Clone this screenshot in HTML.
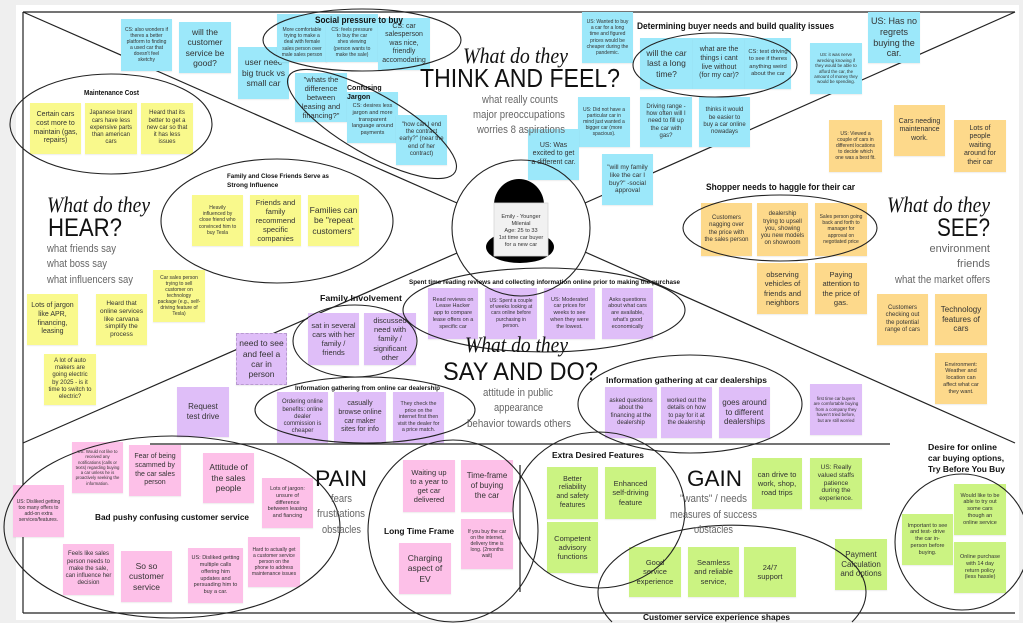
<!DOCTYPE html>
<html><head><meta charset="utf-8">
<style>
html,body{margin:0;padding:0;width:1023px;height:623px;overflow:hidden;}
body{background:#efefef;position:relative;font-family:"Liberation Sans",sans-serif;}
#board{position:absolute;left:16px;top:5px;width:1003px;height:615px;background:#fff;}
svg{position:absolute;left:0;top:0;overflow:hidden;}
#bg{z-index:0}
#ov{z-index:2;pointer-events:none}
.s{position:absolute;z-index:1;display:flex;align-items:center;justify-content:center;text-align:center;line-height:1.22;color:#333;box-sizing:border-box;padding:1px;overflow:hidden;box-shadow:0 1px 1px rgba(0,0,0,0.08);}
.b{background:#9ce8fa}
.y{background:#f9f98c}
.o{background:#fdd98b}
.p{background:#dfbef8}
.k{background:#fdc0e8}
.g{background:#cbf382}
</style></head><body>
<div id="board"></div>
<svg id="bg" width="1023" height="623" viewBox="0 0 1023 623">
<g stroke="#222" stroke-width="1.2" fill="none">
<line x1="23" y1="12" x2="1015" y2="12"/>
<line x1="23" y1="12" x2="23" y2="613"/>
<line x1="23" y1="613" x2="1015" y2="613"/>
<line x1="23" y1="12" x2="457" y2="203"/>
<line x1="1015" y1="12" x2="585" y2="203"/>
<line x1="23" y1="443" x2="457" y2="253"/>
<line x1="1015" y1="443" x2="585" y2="252"/>
<line x1="150" y1="444" x2="890" y2="444"/>
<line x1="520" y1="465" x2="520" y2="592"/>
</g>
</svg>

<!-- BLUE -->
<div class="s b" style="left:121px;top:19px;width:51px;height:52px;font-size:5px">CS: also wonders if<br>theres a better<br>platform to finding<br>a used car that<br>doesn't feel<br>sketchy</div>
<div class="s b" style="left:179px;top:22px;width:52px;height:51px;font-size:8.5px">will the<br>customer<br>service be<br>good?</div>
<div class="s b" style="left:238px;top:47px;width:51px;height:52px;font-size:8.5px">user neec<br>big truck vs<br>small car</div>
<div class="s b" style="left:277px;top:14px;width:50px;height:48px;font-size:5px;padding-top:10px">More comfortable<br>trying to make a<br>deal with female<br>sales person over<br>male sales person</div>
<div class="s b" style="left:326px;top:14px;width:52px;height:48px;font-size:5px;padding-top:10px">CS: feels pressure<br>to buy the car<br>shes viewing<br>(person wants to<br>make the sale)</div>
<div class="s b" style="left:378px;top:18px;width:52px;height:52px;font-size:7px">CS: car<br>salesperson<br>was nice,<br>friendly<br>accomodating</div>
<div class="s b" style="left:295px;top:73px;width:52px;height:49px;font-size:7.5px">"whats the<br>difference<br>between<br>leasing and<br>financing?"</div>
<div class="s b" style="left:347px;top:92px;width:51px;height:51px;font-size:5.5px;padding-top:6px">CS: desires less<br>jargon and more<br>transparent<br>language around<br>payments</div>
<div class="s b" style="left:396px;top:115px;width:51px;height:50px;font-size:6px">"how can I end<br>the contract<br>early?" (near the<br>end of her<br>contract)</div>
<div class="s b" style="left:582px;top:12px;width:51px;height:51px;font-size:5px">US: Wanted to buy<br>a car for a long<br>time and figured<br>prices would be<br>cheaper during the<br>pandemic.</div>
<div class="s b" style="left:640px;top:38px;width:53px;height:51px;font-size:8.5px">will the car<br>last a long<br>time?</div>
<div class="s b" style="left:693px;top:38px;width:52px;height:51px;font-size:7px">what are the<br>things i cant<br>live without<br>(for my car)?</div>
<div class="s b" style="left:745px;top:38px;width:46px;height:51px;font-size:5.8px">CS: test driving<br>to see if theres<br>anything weird<br>about the car</div>
<div class="s b" style="left:810px;top:43px;width:52px;height:51px;font-size:4.4px">US: it was nerve<br>wrecking knowing if<br>they would be able to<br>afford the car, the<br>amount of money they<br>would be spending.</div>
<div class="s b" style="left:868px;top:12px;width:52px;height:51px;font-size:9px">US: Has no<br>regrets<br>buying the<br>car.</div>
<div class="s b" style="left:578px;top:97px;width:52px;height:50px;font-size:5px">US: Did not have a<br>particular car in<br>mind just wanted a<br>bigger car (more<br>spacious).</div>
<div class="s b" style="left:640px;top:97px;width:52px;height:50px;font-size:6px">Driving range -<br>how often will I<br>need to fill up<br>the car with<br>gas?</div>
<div class="s b" style="left:699px;top:97px;width:51px;height:50px;font-size:6px">thinks it would<br>be easier to<br>buy a car online<br>nowadays</div>
<div class="s b" style="left:528px;top:129px;width:51px;height:51px;font-size:7px">US: Was<br>excited to get<br>a different car.</div>
<div class="s b" style="left:602px;top:154px;width:51px;height:51px;font-size:6.5px">"will my family<br>like the car I<br>buy?" -social<br>approval</div>

<!-- YELLOW -->
<div class="s y" style="left:30px;top:103px;width:51px;height:51px;font-size:7px">Certain cars<br>cost more to<br>maintain (gas,<br>repairs)</div>
<div class="s y" style="left:85px;top:103px;width:52px;height:51px;font-size:6px">Japanese brand<br>cars have less<br>expensive parts<br>than american<br>cars</div>
<div class="s y" style="left:141px;top:103px;width:52px;height:51px;font-size:6px">Heard that its<br>better to get a<br>new car so that<br>it has less<br>issues</div>
<div class="s y" style="left:192px;top:195px;width:51px;height:51px;font-size:5px">Heavily<br>influenced by<br>close friend who<br>convinced him to<br>buy Tesla</div>
<div class="s y" style="left:250px;top:195px;width:51px;height:51px;font-size:7.5px">Friends and<br>family<br>recommend<br>specific<br>companies</div>
<div class="s y" style="left:308px;top:195px;width:51px;height:51px;font-size:8.5px">Families can<br>be "repeat<br>customers"</div>
<div class="s y" style="left:153px;top:270px;width:52px;height:52px;font-size:5px">Car sales person<br>trying to sell<br>customer on<br>technology<br>package (e.g., self-<br>driving feature of<br>Tesla)</div>
<div class="s y" style="left:27px;top:294px;width:51px;height:51px;font-size:7px">Lots of jargon<br>like APR,<br>financing,<br>leasing</div>
<div class="s y" style="left:96px;top:294px;width:51px;height:51px;font-size:6.5px">Heard that<br>online services<br>like carvana<br>simplify the<br>process</div>
<div class="s y" style="left:44px;top:354px;width:52px;height:51px;font-size:6px">A lot of auto<br>makers are<br>going electric<br>by 2025 - is it<br>time to switch to<br>electric?</div>

<!-- PURPLE -->
<div class="s p" style="left:236px;top:333px;width:51px;height:52px;font-size:8.5px;padding:0;border:1px dashed #b89ad0">need to see<br>and feel a<br>car in<br>person</div>
<div class="s p" style="left:177px;top:387px;width:52px;height:50px;font-size:8px">Request<br>test drive</div>
<div class="s p" style="left:308px;top:313px;width:51px;height:52px;font-size:7.5px">sat in several<br>cars with her<br>family /<br>friends</div>
<div class="s p" style="left:364px;top:313px;width:52px;height:52px;font-size:7.5px">discussed<br>need with<br>family /<br>significant<br>other</div>
<div class="s p" style="left:428px;top:288px;width:50px;height:51px;font-size:5.5px">Read reviews on<br>Lease Hacker<br>app to compare<br>lease offers on a<br>specific car</div>
<div class="s p" style="left:485px;top:288px;width:52px;height:51px;font-size:5px">US: Spent a couple<br>of weeks looking at<br>cars online before<br>purchasing in<br>person.</div>
<div class="s p" style="left:544px;top:288px;width:51px;height:51px;font-size:5.5px">US: Moderated<br>car prices for<br>weeks to see<br>when they were<br>the lowest.</div>
<div class="s p" style="left:602px;top:288px;width:51px;height:51px;font-size:5.5px">Asks questions<br>about what cars<br>are available,<br>what's good<br>economically</div>
<div class="s p" style="left:277px;top:392px;width:51px;height:51px;font-size:6px">Ordering online<br>benefits: online<br>dealer<br>commission is<br>cheaper</div>
<div class="s p" style="left:334px;top:392px;width:52px;height:51px;font-size:7px">casually<br>browse online<br>car maker<br>sites for info</div>
<div class="s p" style="left:393px;top:392px;width:51px;height:51px;font-size:5.3px">They check the<br>price on the<br>internet first then<br>visit the dealer for<br>a price match.</div>
<div class="s p" style="left:605px;top:387px;width:52px;height:51px;font-size:6px">asked questions<br>about the<br>financing at the<br>dealership</div>
<div class="s p" style="left:661px;top:387px;width:51px;height:51px;font-size:6px">worked out the<br>details on how<br>to pay for it at<br>the dealership</div>
<div class="s p" style="left:719px;top:387px;width:51px;height:51px;font-size:8px">goes around<br>to different<br>dealerships</div>
<div class="s p" style="left:810px;top:384px;width:52px;height:51px;font-size:4.4px">first time car buyers<br>are comfortable buying<br>from a company they<br>haven't tried before,<br>but are still worried</div>

<!-- ORANGE -->
<div class="s o" style="left:829px;top:120px;width:53px;height:52px;font-size:5px">US: Viewed a<br>couple of cars in<br>different locations<br>to decide which<br>one was a best fit.</div>
<div class="s o" style="left:894px;top:105px;width:51px;height:51px;font-size:7px">Cars needing<br>maintenance<br>work.</div>
<div class="s o" style="left:954px;top:120px;width:52px;height:52px;font-size:7px">Lots of<br>people<br>waiting<br>around for<br>their car</div>
<div class="s o" style="left:701px;top:203px;width:51px;height:53px;font-size:6px">Customers<br>nagging over<br>the price with<br>the sales person</div>
<div class="s o" style="left:757px;top:203px;width:51px;height:53px;font-size:6px">dealership<br>trying to upsell<br>you, showing<br>you new models<br>on showroom</div>
<div class="s o" style="left:815px;top:203px;width:52px;height:53px;font-size:5px">Sales person going<br>back and forth to<br>manager for<br>approval on<br>negotiated price</div>
<div class="s o" style="left:757px;top:263px;width:51px;height:51px;font-size:7.5px">observing<br>vehicles of<br>friends and<br>neighbors</div>
<div class="s o" style="left:815px;top:263px;width:52px;height:51px;font-size:7.5px">Paying<br>attention to<br>the price of<br>gas.</div>
<div class="s o" style="left:877px;top:294px;width:51px;height:51px;font-size:6px">Customers<br>checking out<br>the potential<br>range of cars</div>
<div class="s o" style="left:935px;top:294px;width:52px;height:51px;font-size:8px">Technology<br>features of<br>cars</div>
<div class="s o" style="left:935px;top:353px;width:52px;height:51px;font-size:5.5px">Environment:<br>Weather and<br>location can<br>affect what car<br>they want.</div>

<!-- PINK -->
<div class="s k" style="left:72px;top:442px;width:51px;height:51px;font-size:4.3px">US: Would not like to<br>received any<br>notifications (calls or<br>texts) regarding buying<br>a car unless he is<br>proactively seeking the<br>information.</div>
<div class="s k" style="left:129px;top:445px;width:52px;height:51px;font-size:7px">Fear of being<br>scammed by<br>the car sales<br>person</div>
<div class="s k" style="left:203px;top:453px;width:51px;height:50px;font-size:8.5px">Attitude of<br>the sales<br>people</div>
<div class="s k" style="left:13px;top:485px;width:51px;height:52px;font-size:5px">US: Disliked getting<br>too many offers to<br>add-on extra<br>services/features.</div>
<div class="s k" style="left:63px;top:544px;width:51px;height:51px;font-size:6px">Feels like sales<br>person needs to<br>make the sale,<br>can influence her<br>decision</div>
<div class="s k" style="left:121px;top:551px;width:51px;height:51px;font-size:8.5px">So so<br>customer<br>service</div>
<div class="s k" style="left:188px;top:548px;width:55px;height:55px;font-size:5.5px">US: Disliked getting<br>multiple calls<br>offering him<br>updates and<br>persuading him to<br>buy a car.</div>
<div class="s k" style="left:248px;top:537px;width:52px;height:50px;font-size:5px">Hard to actually get<br>a customer service<br>person on the<br>phone to address<br>maintenance issues</div>
<div class="s k" style="left:262px;top:478px;width:51px;height:50px;font-size:5.5px">Lots of jargon:<br>unsure of<br>difference<br>between leasing<br>and fiancing</div>
<div class="s k" style="left:403px;top:460px;width:52px;height:52px;font-size:7.5px">Waiting up<br>to a year to<br>get car<br>delivered</div>
<div class="s k" style="left:461px;top:460px;width:52px;height:52px;font-size:8px">Time-frame<br>of buying<br>the car</div>
<div class="s k" style="left:461px;top:519px;width:52px;height:50px;font-size:5px">If you buy the car<br>on the internet,<br>delivery time is<br>long. (2months<br>wait)</div>
<div class="s k" style="left:399px;top:543px;width:52px;height:51px;font-size:8.5px">Charging<br>aspect of<br>EV</div>

<!-- GREEN -->
<div class="s g" style="left:547px;top:467px;width:51px;height:52px;font-size:7px">Better<br>reliability<br>and safety<br>features</div>
<div class="s g" style="left:605px;top:467px;width:51px;height:52px;font-size:7.5px">Enhanced<br>self-driving<br>feature</div>
<div class="s g" style="left:547px;top:522px;width:51px;height:51px;font-size:7.5px">Competent<br>advisory<br>functions</div>
<div class="s g" style="left:629px;top:547px;width:52px;height:50px;font-size:7.5px">Good<br>service<br>experience</div>
<div class="s g" style="left:688px;top:547px;width:51px;height:50px;font-size:7.5px">Seamless<br>and reliable<br>service,</div>
<div class="s g" style="left:744px;top:547px;width:52px;height:50px;font-size:7.5px">24/7<br>support</div>
<div class="s g" style="left:752px;top:458px;width:50px;height:51px;font-size:7.5px">can drive to<br>work, shop,<br>road trips</div>
<div class="s g" style="left:810px;top:458px;width:52px;height:51px;font-size:6.5px">US: Really<br>valued staffs<br>patience<br>during the<br>experience.</div>
<div class="s g" style="left:835px;top:539px;width:52px;height:51px;font-size:8px">Payment<br>Calculation<br>and options</div>
<div class="s g" style="left:902px;top:514px;width:51px;height:51px;font-size:5.5px">Important to see<br>and test- drive<br>the car in-<br>person before<br>buying.</div>
<div class="s g" style="left:954px;top:484px;width:52px;height:51px;font-size:5.5px">Would like to be<br>able to try out<br>some cars<br>though an<br>online service</div>
<div class="s g" style="left:954px;top:542px;width:52px;height:51px;font-size:5.5px">Online purchase<br>with 14 day<br>return policy<br>(less hassle)</div>

<svg id="ov" width="1023" height="623" viewBox="0 0 1023 623">
<!-- person -->
<path d="M494,205 A25,26 0 0 1 544,205 Z" fill="#000"/>
<ellipse cx="520" cy="247" rx="34" ry="16" fill="#000"/>
<rect x="494" y="203" width="54" height="53" fill="#f1f1f1" stroke="#d8d8d8" stroke-width="0.8"/>
<g font-family="Liberation Sans, sans-serif" font-size="5.6" fill="#333" text-anchor="middle">
<text x="521" y="218">Emily - Younger</text>
<text x="521" y="225">Milenial</text>
<text x="521" y="232">Age: 25 to 33</text>
<text x="521" y="239">1st time car buyer</text>
<text x="521" y="246">for a new car</text>
</g>
<g stroke="#222" stroke-width="1.1" fill="none">
<ellipse cx="521" cy="228" rx="69" ry="68"/>
<ellipse cx="362" cy="40" rx="99" ry="31"/>
<ellipse cx="372" cy="124" rx="96" ry="30" transform="rotate(30 372 124)"/>
<ellipse cx="111" cy="124" rx="101" ry="50"/>
<ellipse cx="277" cy="221" rx="116" ry="62"/>
<ellipse cx="715" cy="65" rx="82" ry="32"/>
<ellipse cx="780" cy="228" rx="97" ry="33"/>
<ellipse cx="355" cy="341" rx="62" ry="36"/>
<ellipse cx="544" cy="310" rx="141" ry="42"/>
<ellipse cx="365" cy="410" rx="110" ry="33"/>
<ellipse cx="690" cy="404" rx="112" ry="49"/>
<ellipse cx="172" cy="527" rx="168" ry="91"/>
<ellipse cx="453" cy="531" rx="85" ry="91"/>
<ellipse cx="599" cy="510" rx="86" ry="78"/>
<path d="M612,622 A134,67 0 1 1 852,622"/>
<ellipse cx="962" cy="542" rx="67" ry="68"/>
</g>

<!-- big quadrant titles -->
<g font-family="Liberation Serif, serif" font-style="italic" fill="#111" font-size="22">
<text x="463" y="63" textLength="105" lengthAdjust="spacingAndGlyphs">What do they</text>
<text x="47" y="212" textLength="103" lengthAdjust="spacingAndGlyphs">What do they</text>
<text x="887" y="212" textLength="103" lengthAdjust="spacingAndGlyphs">What do they</text>
<text x="465" y="352" textLength="103" lengthAdjust="spacingAndGlyphs">What do they</text>
</g>
<g font-family="Liberation Sans, sans-serif" fill="#111">
<text x="420" y="87" font-size="26" textLength="200" lengthAdjust="spacingAndGlyphs">THINK AND FEEL?</text>
<text x="48" y="236" font-size="25" textLength="74" lengthAdjust="spacingAndGlyphs">HEAR?</text>
<text x="937" y="236" font-size="25" textLength="53" lengthAdjust="spacingAndGlyphs">SEE?</text>
<text x="443" y="380" font-size="25" textLength="155" lengthAdjust="spacingAndGlyphs">SAY AND DO?</text>
<text x="315" y="486" font-size="22" textLength="52" lengthAdjust="spacingAndGlyphs">PAIN</text>
<text x="687" y="486" font-size="22" textLength="55" lengthAdjust="spacingAndGlyphs">GAIN</text>
</g>
<g font-family="Liberation Sans, sans-serif" fill="#666" font-size="11">
<text x="482" y="103" textLength="76" lengthAdjust="spacingAndGlyphs">what really counts</text>
<text x="473" y="118" textLength="92" lengthAdjust="spacingAndGlyphs">major preoccupations</text>
<text x="477" y="133" textLength="88" lengthAdjust="spacingAndGlyphs">worries 8 aspirations</text>
<text x="47" y="252" textLength="69" lengthAdjust="spacingAndGlyphs">what friends say</text>
<text x="47" y="267" textLength="60" lengthAdjust="spacingAndGlyphs">what boss say</text>
<text x="47" y="283" textLength="86" lengthAdjust="spacingAndGlyphs">what influencers say</text>
<text x="990" y="252" text-anchor="end">environment</text>
<text x="990" y="267" text-anchor="end">friends</text>
<text x="895" y="283" textLength="95" lengthAdjust="spacingAndGlyphs">what the market offers</text>
<text x="483" y="396" textLength="70" lengthAdjust="spacingAndGlyphs">attitude in public</text>
<text x="494" y="411" textLength="49" lengthAdjust="spacingAndGlyphs">appearance</text>
<text x="467" y="427" textLength="104" lengthAdjust="spacingAndGlyphs">behavior towards others</text>
<text x="331" y="502" textLength="21" lengthAdjust="spacingAndGlyphs">fears</text>
<text x="317" y="517" textLength="48" lengthAdjust="spacingAndGlyphs">frustrations</text>
<text x="322" y="533" textLength="39" lengthAdjust="spacingAndGlyphs">obstacles</text>
<text x="680" y="502" textLength="67" lengthAdjust="spacingAndGlyphs">"wants" / needs</text>
<text x="670" y="518" textLength="87" lengthAdjust="spacingAndGlyphs">measures of success</text>
<text x="694" y="533" textLength="39" lengthAdjust="spacingAndGlyphs">obstacles</text>
</g>

<!-- group labels -->
<g font-family="Liberation Sans, sans-serif" font-weight="bold" fill="#111">
<text x="315" y="23" font-size="9.5" textLength="88" lengthAdjust="spacingAndGlyphs">Social pressure to buy</text>
<text x="347" y="90" font-size="7">Confusing</text>
<text x="347" y="99" font-size="7">Jargon</text>
<text x="84" y="95" font-size="7.5" textLength="55" lengthAdjust="spacingAndGlyphs">Maintenance Cost</text>
<text x="227" y="178" font-size="6.5" textLength="102" lengthAdjust="spacingAndGlyphs">Family and Close Friends Serve as</text>
<text x="227" y="187" font-size="6.5">Strong Influence</text>
<text x="637" y="29" font-size="9" textLength="197" lengthAdjust="spacingAndGlyphs">Determining buyer needs and build quality issues</text>
<text x="706" y="190" font-size="9" textLength="149" lengthAdjust="spacingAndGlyphs">Shopper needs to haggle for their car</text>
<text x="320" y="301" font-size="8.5" textLength="82" lengthAdjust="spacingAndGlyphs">Family Involvement</text>
<text x="409" y="284" font-size="6.5" textLength="271" lengthAdjust="spacingAndGlyphs">Spent time reading reviews and collecting information online prior to making the purchase</text>
<text x="295" y="390" font-size="6.5" textLength="145" lengthAdjust="spacingAndGlyphs">Information gathering from online car dealership</text>
<text x="606" y="383" font-size="8.5" textLength="161" lengthAdjust="spacingAndGlyphs">Information gathering at car dealerships</text>
<text x="95" y="520" font-size="8.5" textLength="154" lengthAdjust="spacingAndGlyphs">Bad pushy confusing customer service</text>
<text x="384" y="534" font-size="8" textLength="70" lengthAdjust="spacingAndGlyphs">Long Time Frame</text>
<text x="552" y="458" font-size="8" textLength="92" lengthAdjust="spacingAndGlyphs">Extra  Desired Features</text>
<text x="928" y="450" font-size="8.5" textLength="69" lengthAdjust="spacingAndGlyphs">Desire for online</text>
<text x="928" y="461" font-size="8.5" textLength="76" lengthAdjust="spacingAndGlyphs">car buying options,</text>
<text x="928" y="472" font-size="8.5" textLength="77" lengthAdjust="spacingAndGlyphs">Try Before You Buy</text>
<text x="643" y="620" font-size="8.5" textLength="147" lengthAdjust="spacingAndGlyphs">Customer service experience shapes</text>
</g>
</svg>
</body></html>
